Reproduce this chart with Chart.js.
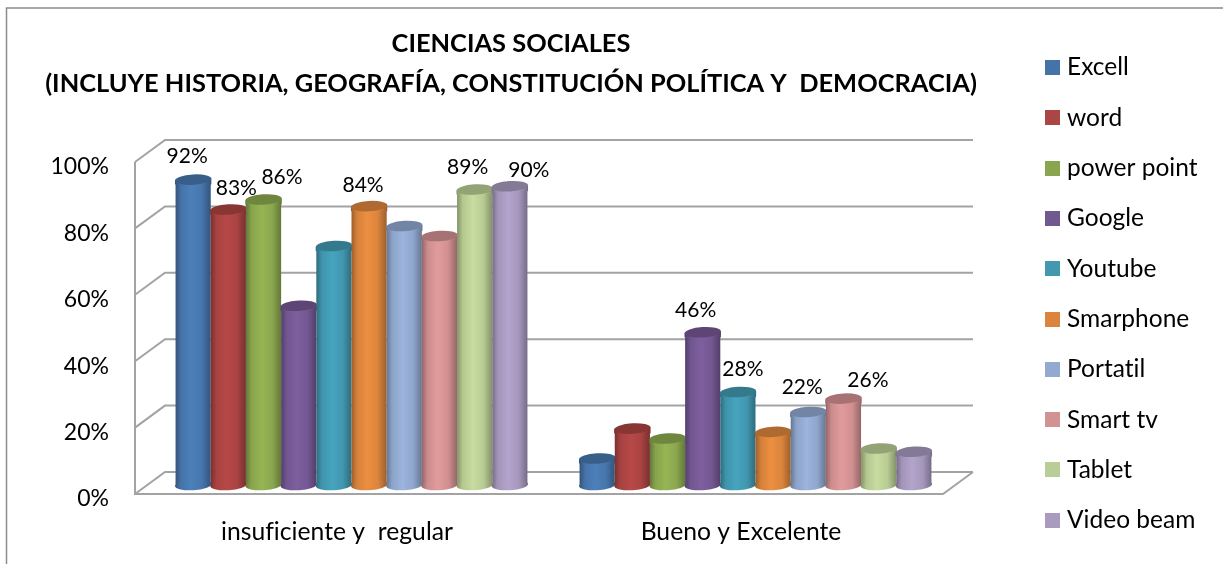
<!DOCTYPE html>
<html><head><meta charset="utf-8">
<style>html,body{margin:0;padding:0;background:#fff}canvas{display:block}</style>
<script src="https://cdn.jsdelivr.net/npm/chart.js@4"></script>
</head><body>
<canvas id="c" width="1223" height="564"></canvas>
<script>
const categories = ['insuficiente y  regular', 'Bueno y Excelente'];
const seriesNames = ['Excell','word','power point','Google','Youtube','Smarphone','Portatil','Smart tv','Tablet','Video beam'];
const excell = [92, 8];
const word = [83, 17];
const powerPoint = [86, 14];
const google = [54, 46];
const youtube = [72, 28];
const smarphone = [84, 16];
const portatil = [78, 22];
const smartTv = [75, 26];
const tablet = [89, 11];
const videoBeam = [90, 10];
const seriesValues = [excell, word, powerPoint, google, youtube, smarphone, portatil, smartTv, tablet, videoBeam];
const tickValues = [0, 20, 40, 60, 80, 100];
const titleLines = ['CIENCIAS SOCIALES', '(INCLUYE HISTORIA, GEOGRAFÍA, CONSTITUCIÓN POLÍTICA Y  DEMOCRACIA)'];

const barColors = ['#4A7CB5','#B24745','#92B052','#7A5C9A','#449FB8','#E58B3F','#97AFD8','#DB9698','#C2D69B','#AE9FC6'];
const legendColors = ['#4572A7','#AA4643','#89A54E','#71588F','#4198AF','#DB843D','#93A9CF','#D19392','#B9CD96','#A99BBD'];
// hand-placed data labels: [series, category, dx, dy] relative to the bar top
const labelPlacement = [[0,0,-6,-23],[1,0,8,-21],[2,0,18.5,-22],[5,0,-6,-21],[8,0,-7,-22.5],[9,0,19,-16],
                        [3,1,-7,-22],[4,1,5,-23],[6,1,-6,-25],[7,1,24.5,-18]];

const FONT = 'Lato, Carlito, Calibri, sans-serif';
const DEPTH_X = 30, DEPTH_Y = -22, BAR_DX = 14.5, BAR_DY = -9, CAT_PCT = 0.871;
const WALL = '#A3A3A3';

function shade(hex, f) {
  const n = parseInt(hex.slice(1), 16);
  const c = [n >> 16, (n >> 8) & 255, n & 255].map(v => Math.min(255, Math.round(v * f)));
  return 'rgb(' + c.join(',') + ')';
}
function barFill(ctx) {
  const chart = ctx.chart, sx = chart.scales && chart.scales.x, color = barColors[ctx.datasetIndex];
  if (!sx || ctx.dataIndex === undefined) return color;
  const bw = sx.width / categories.length * CAT_PCT / seriesNames.length;
  const cx = sx.getPixelForValue(ctx.dataIndex) + (ctx.datasetIndex - (seriesNames.length - 1) / 2) * bw;
  if (!isFinite(cx) || !isFinite(bw) || bw <= 0) return color;
  return cylinderGradient(chart.ctx, cx - bw / 2, cx + bw / 2, color);
}
function cylinderGradient(c, x0, x1, color) {
  const g = c.createLinearGradient(x0, 0, x1, 0);
  [[0,.68],[.16,.93],[.45,1.03],[.75,.95],[1,.68]].forEach(s => g.addColorStop(s[0], shade(color, s[1])));
  return g;
}
function swatch(color) {
  const cv = document.createElement('canvas');
  cv.width = 15; cv.height = 15;
  const x = cv.getContext('2d'); x.fillStyle = color; x.fillRect(0, 0, 15, 15);
  return cv;
}
const swatches = legendColors.map(swatch);

const scene = {
  id: 'scene',
  beforeDraw(chart) {
    const c = chart.ctx;
    c.letterSpacing = '0.01px';
    c.save();
    c.fillStyle = '#fff'; c.fillRect(0, 0, chart.width, chart.height);
    c.strokeStyle = '#8C8C8C'; c.lineWidth = 1.5;
    c.beginPath(); c.moveTo(6.5, chart.height); c.lineTo(6.5, 8); c.lineTo(chart.width, 8); c.stroke();
    c.restore();
  },
  beforeLayout(chart) {
    const l = chart.legend;
    if (!l._wrapped) {
      const f = l.fit.bind(l);
      l.fit = () => { f(); l.width = 280; };
      l._wrapped = true;
    }
  },
  afterLayout(chart) {
    const l = chart.legend;
    l.left = 1024.45; l.right = 1223; l.top = 29.5; l.bottom = 600;
    const t = chart.titleBlock;
    t.left = 0; t.right = 1022;
  },
  beforeDatasetsDraw(chart) {
    const c = chart.ctx, a = chart.chartArea, y = chart.scales.y;
    c.save();
    c.strokeStyle = WALL; c.lineWidth = 2;
    tickValues.forEach(v => {
      const p = y.getPixelForValue(v);
      c.beginPath();
      c.moveTo(a.left, p); c.lineTo(a.left + DEPTH_X, p + DEPTH_Y); c.lineTo(a.right + DEPTH_X, p + DEPTH_Y);
      c.stroke();
    });
    c.beginPath();
    c.moveTo(a.left, a.top); c.lineTo(a.left, a.bottom); c.lineTo(a.right, a.bottom); c.lineTo(a.right + DEPTH_X, a.bottom + DEPTH_Y);
    c.stroke();
    c.restore();
    // paint left to right so each cylinder sits over its left neighbour
    seriesNames.forEach((n, i) => chart._drawDataset(chart.getDatasetMeta(i)));
    c.save();
    c.fillStyle = '#000';
    c.font = '21px ' + FONT;
    c.textAlign = 'center'; c.textBaseline = 'middle';
    labelPlacement.forEach(p => {
      const el = chart.getDatasetMeta(p[0]).data[p[1]];
      c.fillText(seriesValues[p[0]][p[1]] + '%', el.x + BAR_DX + p[2], el.y + BAR_DY + p[3]);
    });
    c.restore();
    return false;
  },
  beforeDatasetDraw(chart) {
    chart.ctx.save();
    chart.ctx.translate(BAR_DX, BAR_DY);
  },
  afterDatasetDraw(chart, args) {
    const c = chart.ctx, color = barColors[args.index], tilt = -0.06;
    args.meta.data.forEach(el => {
      const rx = el.width / 2 + 0.6, ry = 5.2;
      c.fillStyle = cylinderGradient(c, el.x - rx, el.x + rx, color);
      c.beginPath(); c.ellipse(el.x, el.base, rx, ry, tilt, 0, Math.PI * 2); c.fill();
      c.beginPath();
      c.moveTo(el.x - rx, el.y + 1); c.lineTo(el.x + rx, el.y - 1); c.lineTo(el.x + rx, el.y + 5); c.lineTo(el.x - rx, el.y + 5); c.fill();
      c.fillStyle = shade(color, 0.76);
      c.beginPath(); c.ellipse(el.x, el.y, rx, ry, tilt, 0, Math.PI * 2); c.fill();
    });
    c.restore();
  }
};

new Chart(document.getElementById('c'), {
  type: 'bar',
  plugins: [scene],
  data: {
    labels: categories,
    datasets: seriesNames.map((name, i) => ({
      label: name,
      data: seriesValues[i],
      clip: false,
      backgroundColor: barFill,
      borderWidth: 0,
      categoryPercentage: CAT_PCT,
      barPercentage: 1
    }))
  },
  options: {
    responsive: false,
    animation: false,
    layout: { padding: 0 },
    scales: {
      x: {
        grid: { display: false, drawTicks: false },
        border: { display: false },
        ticks: { color: '#000', font: { family: FONT, size: 24.7 }, padding: 23, maxRotation: 0, autoSkip: false },
        afterFit(s) { s.height = 70; }
      },
      y: {
        min: 0, max: 100,
        grid: { display: false, drawTicks: false },
        border: { display: false },
        ticks: { color: '#000', font: { family: FONT, size: 23 }, padding: 26, stepSize: 20, labelOffset: 5, callback: v => v + '%' },
        afterFit(s) { s.width = 135; }
      }
    },
    plugins: {
      tooltip: { enabled: false },
      title: {
        display: true,
        text: titleLines,
        color: '#000',
        font: { family: FONT, size: 25.4, weight: 'bold', lineHeight: 1.575 },
        padding: { top: 24, bottom: 58 }
      },
      legend: {
        position: 'right',
        align: 'start',
        onClick: null,
        labels: {
          color: '#000',
          font: { family: FONT, size: 24.5 },
          usePointStyle: true,
          pointStyleWidth: 4.5,
          padding: 25.8,
          generateLabels(chart) {
            return chart.data.datasets.map((d, i) => ({
              text: d.label, datasetIndex: i, pointStyle: swatches[i], fontColor: '#000',
              fillStyle: legendColors[i], strokeStyle: legendColors[i], lineWidth: 0, hidden: false
            }));
          }
        }
      }
    }
  }
});
</script>
</body></html>
